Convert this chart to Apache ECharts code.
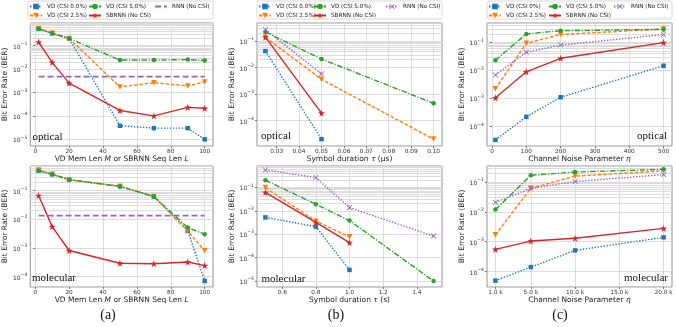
<!DOCTYPE html>
<html>
<head>
<meta charset="utf-8">
<script src="https://cdn.jsdelivr.net/npm/echarts@6/dist/echarts.min.js"></script>
<style>
  html, body { margin: 0; padding: 0; background: #fff; }
  #chart { width: 676px; height: 327px; }
</style>
</head>
<body>
<div id="chart"></div>
<script>
// ---- x values / tick labels ----
const memLen = [2, 10, 20, 50, 70, 90, 100];
const memTicks = [0, 20, 40, 60, 80, 100];
const tauOpt = [0.025, 0.05, 0.1];
const tauOptTicks = [0.03, 0.04, 0.05, 0.06, 0.07, 0.08, 0.09, 0.10];
const tauMol = [0.5, 0.8, 1.0, 1.5];
const tauMolTicks = [0.6, 0.8, 1.0, 1.2, 1.4];
const etaOpt = [10, 100, 200, 500];
const etaOptTicks = [0, 100, 200, 300, 400, 500];
const etaMol = [1000, 5000, 10000, 20000];
const etaMolTicks = [1000, 5000, 10000, 15000, 20000];

// ---- (a) optical ----
const aOptVD0 = [0.52, 0.33, 0.2, 3.8e-5, 3e-5, 3e-5, 1e-5];
const aOptVD25 = [0.52, 0.33, 0.2, 1.7e-3, 2.6e-3, 1.9e-3, 2.8e-3];
const aOptVD5 = [0.52, 0.33, 0.2, 0.024, 0.024, 0.025, 0.023];
const aOptSB = [0.14, 0.019, 2.5e-3, 1.7e-4, 1.0e-4, 2.3e-4, 2.1e-4];
const aOptRNN = [4.7e-3, 4.7e-3, 4.7e-3, 4.7e-3, 4.7e-3, 4.7e-3, 4.7e-3];
// ---- (a) molecular ----
const aMolVD0 = [0.5, 0.37, 0.24, 0.14, 0.062, 4e-3, 7e-5];
const aMolVD25 = [0.52, 0.37, 0.24, 0.14, 0.062, 3.9e-3, 7.9e-4];
const aMolVD5 = [0.49, 0.37, 0.24, 0.14, 0.062, 5.1e-3, 3e-3];
const aMolSB = [0.067, 5.5e-3, 8.1e-4, 2.9e-4, 2.8e-4, 3.2e-4, 2.4e-4];
const aMolRNN = [0.0134, 0.0134, 0.0134, 0.0134, 0.0134, 0.0134, 0.0134];
// ---- (b) optical ----
const bOptVD0 = [0.042, 2e-5];
const bOptVD25 = [0.138, 3.6e-3, 2e-5];
const bOptVD5 = [0.22, 0.021, 4.5e-4];
const bOptSB = [0.14, 1.9e-4];
const bOptRNN = [0.27, 5.8e-3];
// ---- (b) molecular ----
const bMolVD0 = [5.2e-3, 2.1e-3, 3e-5];
const bMolVD25 = [0.097, 3.6e-3, 7.8e-4];
const bMolVD5 = [0.2, 0.019, 3.8e-3, 1e-5];
const bMolSB = [0.061, 3.2e-3, 4.4e-4];
const bMolRNN = [0.55, 0.26, 0.0136, 8.3e-4];
// ---- (c) optical ----
const cOptVD0 = [3.3e-5, 2.2e-4, 1.1e-3, 0.0146];
const cOptVD25 = [2.2e-3, 0.092, 0.19, 0.3];
const cOptVD5 = [0.023, 0.2, 0.26, 0.29];
const cOptSB = [1.05e-3, 8.9e-3, 0.027, 0.098];
const cOptRNN = [6.8e-3, 0.044, 0.08, 0.19];
// ---- (c) molecular ----
const cMolVD0 = [4.9e-5, 1.4e-4, 5.1e-4, 1.4e-3];
const cMolVD25 = [1.7e-3, 0.062, 0.16, 0.24];
const cMolVD5 = [0.012, 0.17, 0.22, 0.27];
const cMolSB = [5.5e-4, 1.05e-3, 1.3e-3, 2.8e-3];
const cMolRNN = [0.021, 0.062, 0.105, 0.18];

const labels = {
  vd0: 'VD (CSI 0.0%)', vd0c: 'VD (CSI 0%)', vd25: 'VD (CSI 2.5%)', vd5: 'VD (CSI 5.0%)',
  sb: 'SBRNN (No CSI)', rnnA: 'RNN (No CSI)', rnn: 'RNN (No CSI)'
};

const starPath = 'path://M0,-10 L2.35,-3.24 9.51,-3.09 3.8,1.24 5.88,8.09 0,4 -5.88,8.09 -3.8,1.24 -9.51,-3.09 -2.35,-3.24 Z';
const xPath = 'path://M-10,-8 L-8,-10 L0,-2 L8,-10 L10,-8 L2,0 L10,8 L8,10 L0,2 L-8,10 L-10,8 L-2,0 Z';

const styles = {
  vd0:  { color: '#1f77b4', type: [1.4, 1.6], symbol: 'rect', size: 4.5 },
  vd0c: { color: '#1f77b4', type: [1.4, 1.6], symbol: 'rect', size: 4.5 },
  vd25: { color: '#ff7f0e', type: [3.5, 1.8], symbol: 'triangle', rotate: 180, size: 5.5 },
  vd5:  { color: '#2ca02c', type: [5.5, 1.6, 1.2, 1.6], symbol: 'circle', size: 4.5 },
  sb:   { color: '#d62728', type: 'solid', symbol: starPath, size: 7 },
  rnnA: { color: '#9467bd', type: [6, 3], symbol: 'circle', size: 0, width: 1.8 },
  rnn:  { color: '#9467bd', type: [1.4, 1.6], symbol: xPath, size: 5.5 }
};

const panels = [
  { grid: { left: 29, top: 23, width: 184, height: 123 }, xs: memLen, ticks: memTicks, xmin: -2.9, xmax: 104.9,
    fmt: v => String(v), ymin: 5.2e-6, ymax: 0.91, yGap: 19,
    xname: 'VD Mem Len {i|M} or SBRNN Seq Len {i|L}',
    lines: [['vd0', aOptVD0], ['vd25', aOptVD25], ['vd5', aOptVD5], ['sb', aOptSB], ['rnnA', aOptRNN]] },
  { grid: { left: 257, top: 23, width: 185, height: 123 }, xs: tauOpt, ticks: tauOptTicks, xmin: 0.02125, xmax: 0.10375,
    fmt: v => v.toFixed(2), ymin: 1.1e-5, ymax: 0.48, yGap: 18,
    xname: 'Symbol duration {i|τ} (μs)',
    lines: [['vd0', bOptVD0], ['vd25', bOptVD25], ['vd5', bOptVD5], ['sb', bOptSB], ['rnn', bOptRNN]] },
  { grid: { left: 487, top: 23, width: 185, height: 123 }, xs: etaOpt, ticks: etaOptTicks, xmin: -14.5, xmax: 524.5,
    fmt: v => String(v), ymin: 2e-5, ymax: 0.49, yGap: 18,
    xname: 'Channel Noise Parameter {i|η}',
    lines: [['vd0c', cOptVD0], ['vd25', cOptVD25], ['vd5', cOptVD5], ['sb', cOptSB], ['rnn', cOptRNN]] },
  { grid: { left: 27, top: 166, width: 186, height: 121 }, xs: memLen, ticks: memTicks, xmin: -2.9, xmax: 104.9,
    fmt: v => String(v), ymin: 4.3e-5, ymax: 0.72, yGap: 17,
    xname: 'VD Mem Len {i|M} or SBRNN Seq Len {i|L}',
    lines: [['vd0', aMolVD0], ['vd25', aMolVD25], ['vd5', aMolVD5], ['sb', aMolSB], ['rnnA', aMolRNN]] },
  { grid: { left: 257, top: 166, width: 185, height: 121 }, xs: tauMol, ticks: tauMolTicks, xmin: 0.45, xmax: 1.55,
    fmt: v => v.toFixed(1), ymin: 5.6e-6, ymax: 0.81, yGap: 18,
    xname: 'Symbol duration {i|τ} (s)',
    lines: [['vd0', bMolVD0], ['vd25', bMolVD25], ['vd5', bMolVD5], ['sb', bMolSB], ['rnn', bMolRNN]] },
  { grid: { left: 487, top: 166, width: 185, height: 121 }, xs: etaMol, ticks: etaMolTicks, xmin: 50, xmax: 20950,
    fmt: v => (v / 1000).toFixed(1) + ' k', ymin: 3e-5, ymax: 0.35, yGap: 18,
    xname: 'Channel Noise Parameter {i|η}',
    lines: [['vd0c', cMolVD0], ['vd25', cMolVD25], ['vd5', cMolVD5], ['sb', cMolSB], ['rnn', cMolRNN]] }
];

const FONT = 'DejaVu Sans';
const SERIF = 'Liberation Serif';

// minor gridlines at 2..9 x 10^k
function minorValues(lo, hi) {
  const out = [];
  for (let k = -7; k <= 1; k++) {
    for (let m = 2; m <= 9; m++) {
      const v = m * Math.pow(10, k);
      if (v > lo && v < hi) out.push({ yAxis: v });
    }
  }
  return out;
}

function yLabel(v) {
  const e = Math.log10(v);
  const r = Math.round(e);
  if (Math.abs(e - r) > 1e-6) return '';
  return '{b|10}{s|\u2212' + (-r) + '}';
}

const grids = [], xAxes = [], yAxes = [], series = [];
panels.forEach((p, i) => {
  grids.push(Object.assign({ show: true, borderColor: '#7a7a7a', borderWidth: 0.8, backgroundColor: '#fff' }, p.grid));
  xAxes.push({
    type: 'value', gridIndex: i, min: p.xmin, max: p.xmax,
    name: p.xname, nameLocation: 'middle', nameGap: 8,
    nameTextStyle: { fontFamily: FONT, fontSize: 7.5, color: '#222',
      rich: { i: { fontFamily: FONT, fontSize: 7.5, fontStyle: 'italic', color: '#222' } } },
    axisLine: { show: false },
    axisTick: { show: true, length: 2, customValues: p.ticks, lineStyle: { color: '#555', width: 0.8 } },
    axisLabel: { show: true, margin: 2, fontFamily: FONT, fontSize: 5.8, color: '#333',
      customValues: p.ticks, formatter: p.fmt, showMinLabel: true, showMaxLabel: true },
    splitLine: { show: true, lineStyle: { color: '#d4d4d4', width: 0.8 } }
  });
  yAxes.push({
    type: 'log', gridIndex: i, min: p.ymin, max: p.ymax, logBase: 10,
    name: 'Bit Error Rate (BER)', nameLocation: 'middle', nameGap: p.yGap,
    nameTextStyle: { fontFamily: FONT, fontSize: 7.5, color: '#222' },
    axisLine: { show: false },
    axisTick: { show: true, length: 2, lineStyle: { color: '#555', width: 0.8 } },
    axisLabel: { show: true, margin: 3, formatter: yLabel, showMinLabel: false, showMaxLabel: false,
      rich: {
        b: { fontFamily: FONT, fontSize: 6, color: '#333', verticalAlign: 'bottom', lineHeight: 9 },
        s: { fontFamily: FONT, fontSize: 4.6, color: '#333', verticalAlign: 'top', lineHeight: 5 }
      } },
    splitLine: { show: true, lineStyle: { color: '#d4d4d4', width: 0.8 } }
  });
  // minor gridlines
  series.push({
    type: 'line', xAxisIndex: i, yAxisIndex: i, data: [], silent: true, z: 1,
    markLine: { silent: true, symbol: ['none', 'none'], label: { show: false }, z: 1,
      animation: false,
      lineStyle: { color: '#dcdcdc', width: 1, type: 'solid' },
      emphasis: { disabled: true },
      data: minorValues(p.ymin, p.ymax) }
  });
  p.lines.forEach(([key, ys]) => {
    const st = styles[key];
    series.push({
      name: key, type: 'line', xAxisIndex: i, yAxisIndex: i, z: 3,
      data: ys.map((y, j) => [p.xs[j], y]),
      symbol: st.symbol, symbolSize: st.size, symbolRotate: st.rotate || 0,
      showSymbol: st.size > 0,
      lineStyle: { color: st.color, width: st.width || 1.4, type: st.type },
      itemStyle: { color: st.color },
      emphasis: { disabled: true }
    });
  });
});

function legendCol(left, names) {
  return {
    left: left, top: 3, orient: 'vertical', padding: 0, itemGap: 2,
    itemWidth: 12, itemHeight: 7, selectedMode: false,
    textStyle: { fontFamily: FONT, fontSize: 5.7, color: '#222', lineHeight: 7, padding: [0, 0, 0, 0] },
    formatter: n => labels[n],
    data: names
  };
}
const hideMark = { name: 'rnnA', itemStyle: { opacity: 0 } };
const legends = [
  legendCol(29, ['vd0', 'vd25']), legendCol(88, ['vd5', 'sb']), legendCol(154, [hideMark]),
  legendCol(258, ['vd0', 'vd25']), legendCol(313, ['vd5', 'sb']), legendCol(385, ['rnn']),
  legendCol(488, ['vd0c', 'vd25']), legendCol(548, ['vd5', 'sb']), legendCol(613, ['rnn'])
];

function box(x) {
  return { type: 'rect', shape: { x: x, y: 1, width: 185, height: 18, r: 2 },
    style: { fill: 'none', stroke: '#cfcfcf', lineWidth: 0.8 }, silent: true };
}
function tag(text, x, y, align, size) {
  return { type: 'text', silent: true, z: 10,
    style: { text: text, x: x, y: y, textAlign: align, textVerticalAlign: 'middle',
      fontFamily: SERIF, fontSize: size, fill: '#111' } };
}

const chart = echarts.init(document.getElementById('chart'), null, { renderer: 'canvas' });
chart.setOption({
  animation: false,
  backgroundColor: '#fff',
  grid: grids,
  xAxis: xAxes,
  yAxis: yAxes,
  legend: legends,
  series: series,
  graphic: [
    box(28), box(257), box(487),
    tag('optical', 32.5, 137, 'left', 11),
    tag('optical', 261, 136, 'left', 11),
    tag('optical', 667, 136.5, 'right', 11),
    tag('molecular', 32, 278.5, 'left', 11),
    tag('molecular', 261.5, 279, 'left', 11),
    tag('molecular', 668, 278.5, 'right', 11),
    tag('(a)', 108, 315, 'center', 14),
    tag('(b)', 336, 315, 'center', 14),
    tag('(c)', 560, 315, 'center', 14)
  ]
});
</script>
</body>
</html>
